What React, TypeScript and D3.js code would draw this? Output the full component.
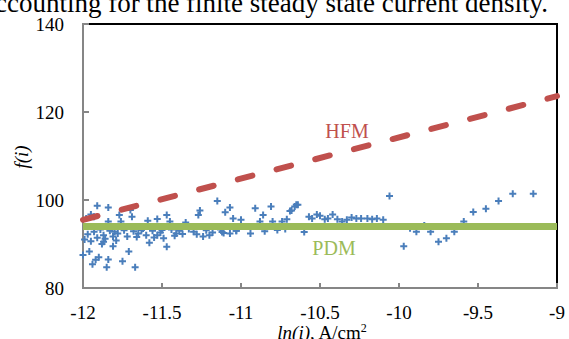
import React from 'react';
import * as d3 from 'd3';

// tick labels
const xTicks = [-12, -11.5, -11, -10.5, -10, -9.5, -9];
const yTicks = [80, 100, 120, 140];

// measured points: [ln(i), f(i)]
const measured: [number, number][] = [
  [-11.91, 98.7], [-11.84, 98.3], [-11.95, 96.7], [-11.93, 96.2], [-11.98, 95.8],
  [-11.84, 95.1], [-11.77, 96.6], [-11.7, 97.7], [-11.69, 96.2], [-11.76, 95.1],
  [-11.47, 96.6], [-11.53, 95.7], [-11.45, 95.1], [-11.35, 94.9], [-11.59, 95.3],
  [-11.26, 97.6], [-11.27, 96.6], [-11.15, 99.8], [-11.1, 97.2], [-11.07, 98.3],
  [-11.05, 95.8],
  [-12.0, 87.5], [-11.96, 88.3], [-11.94, 85.4], [-11.92, 86.4], [-11.9, 87.0],
  [-11.84, 86.5], [-11.85, 84.7], [-11.75, 86.1], [-11.67, 84.7], [-11.71, 88.3],
  [-11.81, 89.5], [-11.87, 90.5], [-11.88, 90.0], [-11.81, 91.7], [-11.78, 92.4],
  [-11.8, 92.8], [-11.72, 91.7], [-11.65, 92.4], [-11.63, 93.2], [-11.6, 92.0],
  [-11.58, 90.3], [-11.53, 92.0], [-11.5, 93.2], [-11.49, 91.3], [-11.47, 89.4],
  [-11.41, 92.4], [-11.3, 92.8], [-11.24, 91.7], [-11.18, 92.6], [-11.07, 92.4],
  [-11.99, 91.0], [-11.97, 92.2], [-11.95, 90.6], [-11.93, 92.8], [-11.91, 91.4],
  [-11.89, 93.3], [-11.87, 92.0], [-11.86, 91.2], [-11.83, 93.0], [-11.79, 90.8],
  [-11.74, 93.1], [-11.68, 92.9], [-11.66, 91.6], [-11.62, 93.5], [-11.56, 93.0],
  [-11.55, 91.5], [-11.51, 92.6], [-11.44, 93.3], [-11.42, 91.9], [-11.39, 93.0],
  [-11.37, 92.3], [-11.33, 93.4], [-11.28, 92.2], [-11.22, 93.1], [-11.2, 92.0],
  [-11.13, 93.3], [-11.11, 92.5], [-11.03, 93.0],
  [-10.91, 98.1], [-10.81, 98.5], [-10.69, 97.5], [-10.65, 98.9],
  [-11.0, 95.5], [-10.88, 95.1], [-10.86, 96.6], [-10.8, 95.1], [-10.74, 95.1],
  [-10.71, 95.6], [-10.68, 97.6], [-10.66, 98.5], [-10.64, 98.9],
  [-10.57, 96.2], [-10.55, 95.8], [-10.52, 96.7], [-10.5, 96.4], [-10.47, 95.6],
  [-10.45, 95.8], [-10.42, 96.7], [-10.39, 95.6], [-10.36, 95.1], [-10.33, 95.5],
  [-10.3, 96.0], [-10.27, 95.8], [-10.24, 95.8], [-10.2, 95.8], [-10.17, 95.6],
  [-10.14, 95.8], [-10.1, 95.5], [-10.06, 100.9],
  [-11.12, 92.7], [-11.03, 93.0], [-10.94, 92.4], [-10.85, 92.9], [-10.77, 93.2],
  [-10.72, 93.4], [-10.6, 92.7],
  [-9.97, 89.5], [-9.89, 92.8], [-9.8, 92.8], [-9.75, 90.5], [-9.7, 91.3],
  [-9.65, 92.8], [-9.59, 95.1], [-9.53, 97.3], [-9.45, 98.0], [-9.37, 99.8],
  [-9.28, 101.4], [-9.15, 101.4], [-9.93, 93.6], [-9.84, 94.2], [-9.61, 94.0],
];

// model curves
const hfm: [number, number][] = [[-12, 95.5], [-9, 123.6]];
const pdm: [number, number][] = [[-12, 94], [-9, 94]];

const W = 569;
const H = 339;
const left = 83;
const right = 557;
const top = 24;
const bottom = 288;

export default function App() {
  const x = d3.scaleLinear().domain([-12, -9]).range([left, right]);
  const y = d3.scaleLinear().domain([80, 140]).range([bottom, top]);
  const line = d3
    .line<[number, number]>()
    .x((d) => x(d[0]))
    .y((d) => y(d[1]));

  return (
    <svg
      width={W}
      height={H}
      style={{
        position: 'fixed',
        left: 0,
        top: 0,
        background: '#fff',
        fontFamily: "'Liberation Serif', 'Times New Roman', serif",
      }}
    >
      <rect width={W} height={H} fill="#fff" />
      {/* text cut from the page above */}
      <text x={548} y={12} fontSize={27} textAnchor="end" fill="#000">
        accounting for the finite steady state current density.
      </text>

      {/* frame */}
      <line x1={left} x2={right} y1={top} y2={top} stroke="#000" strokeWidth={2} />
      <line x1={right} x2={right} y1={top - 1} y2={bottom} stroke="#000" strokeWidth={2} />
      <line x1={left} x2={left} y1={top - 1} y2={bottom + 1} stroke="#868686" strokeWidth={2} />
      <line x1={left - 1} x2={right + 1} y1={bottom} y2={bottom} stroke="#868686" strokeWidth={2} />

      {yTicks.map((t) => (
        <g key={t}>
          <line x1={left} x2={left + 6} y1={y(t)} y2={y(t)} stroke="#868686" strokeWidth={2} />
          <text x={64} y={y(t)} dy="0.35em" textAnchor="end" fontSize={19}>
            {t}
          </text>
        </g>
      ))}
      {xTicks.map((t) => (
        <g key={t}>
          <line x1={x(t)} x2={x(t)} y1={bottom} y2={bottom - 5} stroke="#868686" strokeWidth={2} />
          <text x={x(t)} y={319} textAnchor="middle" fontSize={19}>
            {t}
          </text>
        </g>
      ))}

      {/* measured data */}
      {measured.map((d, i) => (
        <path
          key={i}
          d={`M${x(d[0]) - 3.5},${y(d[1])}h7M${x(d[0])},${y(d[1]) - 3.5}v7`}
          stroke="#4A7EBB"
          strokeWidth={2}
          fill="none"
        />
      ))}

      <path
        d={line(hfm) ?? ''}
        stroke="#C0504D"
        strokeWidth={6}
        strokeDasharray="15,25"
        strokeLinecap="round"
        fill="none"
      />
      <path d={line(pdm) ?? ''} stroke="#9BBB59" strokeWidth={7} fill="none" />

      <text x={347} y={131} dy="0.35em" textAnchor="middle" fontSize={20} fill="#C0504D">
        HFM
      </text>
      <text x={334} y={248} dy="0.35em" textAnchor="middle" fontSize={20} fill="#9BBB59">
        PDM
      </text>

      {/* axis titles */}
      <text
        transform="translate(28,157) rotate(-90)"
        textAnchor="middle"
        fontSize={19}
        fontStyle="italic"
      >
        f(i)
      </text>
      <text x={322} y={339} textAnchor="middle" fontSize={19}>
        <tspan fontStyle="italic">ln(i)</tspan>, A/cm
        <tspan fontSize={12} dy={-7}>
          2
        </tspan>
      </text>
    </svg>
  );
}
